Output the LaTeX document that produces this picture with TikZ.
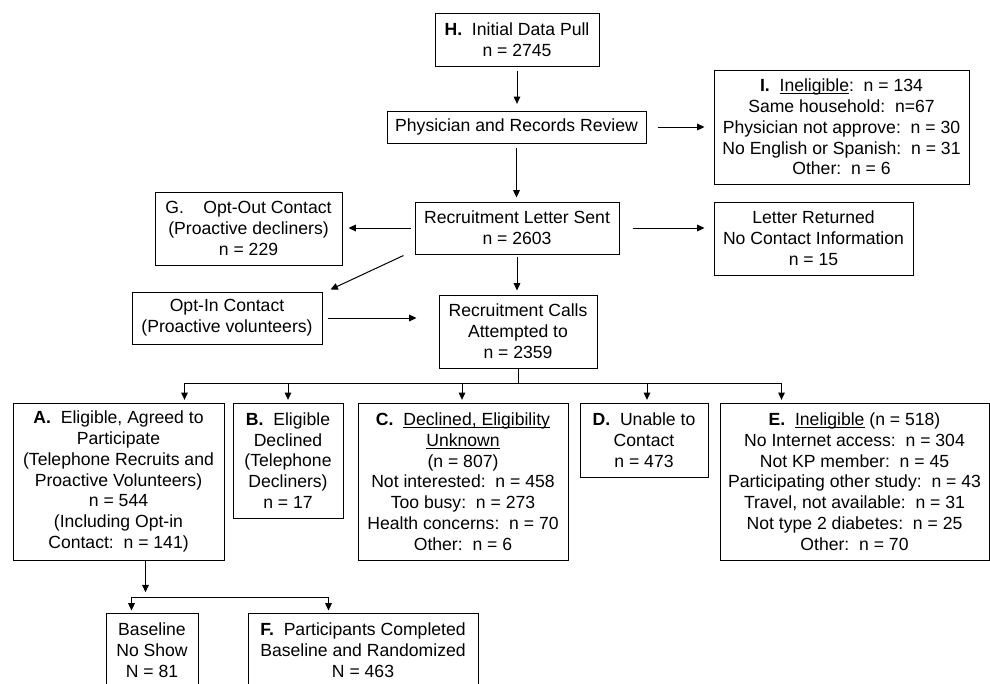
\documentclass[tikz,border=0pt]{standalone}
\usepackage{fontspec}
\setmainfont{Liberation Sans}
\usetikzlibrary{arrows.meta,calc}
\newsavebox\myulbox
\newcommand\myul[1]{\sbox\myulbox{#1}\rlap{\rule[-1.8pt]{\wd\myulbox}{0.55pt}}\usebox\myulbox}
\begin{document}
\begin{tikzpicture}[x=0.75pt,y=-0.75pt,
  box/.style={draw=black, line width=0.75pt, align=center, inner sep=0pt,
    font=\fontsize{13.2pt}{15.6pt}\selectfont},
  arr/.style={-{Triangle[length=5.5pt,width=5pt]}, line width=0.75pt},
  ln/.style={line width=0.75pt}]
\useasboundingbox (0,0) rectangle (990,683);
\clip (0,0) rectangle (990,683);

\node[box, minimum width=123pt, minimum height=39.75pt] (h) at (517,39.5)
  {\textbf{H.}\ \ Initial Data Pull\\n = 2745};
\node[box, minimum width=194.25pt, minimum height=24pt] (phys) at (516.5,127)
  {Physician and Records Review};
\node[box, minimum width=191.25pt, minimum height=85.5pt] (i) at (841.5,127)
  {\textbf{I.}\ \ \myul{Ineligible}:\ \ n = 134\\Same household:\ \ n=67\\Physician not approve:\ \ n = 30\\No English or Spanish:\ \ n = 31\\Other:\ \ n = 6};
\node[box, minimum width=153pt, minimum height=39pt] (rls) at (517,228)
  {Recruitment Letter Sent\\n = 2603};
\node[box, minimum width=140.25pt, minimum height=54.75pt] (g) at (248.5,228.5)
  {G.\hspace{1.1em}Opt-Out Contact\\(Proactive decliners)\\n = 229};
\node[box, minimum width=149.25pt, minimum height=54.75pt] (letter) at (813.5,238.5)
  {Letter Returned\\No Contact Information\\n = 15};
\node[box, minimum width=142.5pt, minimum height=39pt] (optin) at (227,318)
  {Opt-In Contact\\(Proactive volunteers)};
\node[box, minimum width=118.5pt, minimum height=54.75pt] (rc) at (518,331.5)
  {Recruitment Calls\\Attempted to\\n = 2359};
\node[box, minimum width=158.25pt, minimum height=117.75pt] (a) at (118.5,481.5)
  {\textbf{A.}\ \ Eligible, Agreed to\\Participate\\(Telephone Recruits and\\Proactive Volunteers)\\n = 544\\(Including Opt-in\\Contact:\ \ n = 141)};
\node[box, minimum width=82.5pt, minimum height=86.25pt] (b) at (288,460.5)
  {\textbf{B.}\ \ Eligible\\Declined\\(Telephone\\Decliners)\\n = 17};
\node[box, minimum width=157.5pt, minimum height=117.75pt] (c) at (463,481.5)
  {\textbf{C.}\ \ \myul{Declined, Eligibility}\\\myul{Unknown}\\(n = 807)\\Not interested:\ \ n = 458\\Too busy:\ \ n = 273\\Health concerns:\ \ n = 70\\Other:\ \ n = 6};
\node[box, minimum width=96pt, minimum height=55.5pt] (d) at (644,440)
  {\textbf{D.}\ \ Unable to\\Contact\\n = 473};
\node[box, minimum width=201.75pt, minimum height=117.75pt] (e) at (854.5,481.5)
  {\textbf{E.}\ \ \myul{Ineligible} (n = 518)\\No Internet access:\ \ n = 304\\Not KP member:\ \ n = 45\\Participating other study:\ \ n = 43\\Travel, not available:\ \ n = 31\\Not type 2 diabetes:\ \ n = 25\\Other:\ \ n = 70};
\node[box, minimum width=69pt, minimum height=55.5pt] (noshow) at (152,650)
  {Baseline\\No Show\\N = 81};
\node[box, minimum width=172.5pt, minimum height=55.5pt] (f) at (363,650)
  {\textbf{F.}\ \ Participants Completed\\Baseline and Randomized\\N = 463};

% connectors
\draw[arr, shorten <=3pt, shorten >=5pt] (h.south) -- (h.south |- phys.north);
\draw[arr, shorten <=8.25pt, shorten >=6.75pt] (phys.east) -- (phys.east -| i.west);
\draw[arr, shorten <=3pt, shorten >=3pt] (phys.south) -- (phys.south |- rls.north);
\draw[arr, shorten <=3pt, shorten >=4.5pt] (rls.west) -- (rls.west -| g.east);
\draw[arr, shorten <=9.75pt, shorten >=6.75pt] (rls.east) -- (rls.east -| letter.west);
\draw[arr] ($(rls.south west)+(-11,1)$) -- ($(optin.north east)+(8,-2)$);
\draw[arr, shorten <=1.5pt, shorten >=3pt] (rls.south) -- (rls.south |- rc.north);
\draw[arr, shorten <=3.75pt, shorten >=16.5pt] (optin.east) -- (optin.east -| rc.west);

\coordinate (bus) at ($(rc.south)+(0,15)$);
\draw[ln] (rc.south) -- (bus);
\draw[arr, shorten >=2pt] (bus) -| ($(a.north west)+(172,0)$);
\draw[arr, shorten >=2pt] (bus) -| (b.north);
\draw[arr, shorten >=2pt] (bus) -| ($(c.north)+(-1,0)$);
\draw[arr, shorten >=2pt] (bus) -| ($(d.north)+(3,0)$);
\draw[arr, shorten >=2pt] (bus) -| ($(e.north west)+(62,0)$);

\coordinate (aout) at ($(a.south west)+(133,0)$);
\coordinate (bus2) at ($(aout)+(0,37)$);
\draw[arr, shorten >=4pt] (aout) -- (bus2);
\draw[arr, shorten >=1.5pt] (bus2) -| ($(noshow.north west)+(26,0)$);
\draw[arr, shorten >=1.5pt] (bus2) -| ($(f.north west)+(81,0)$);
\end{tikzpicture}
\end{document}
